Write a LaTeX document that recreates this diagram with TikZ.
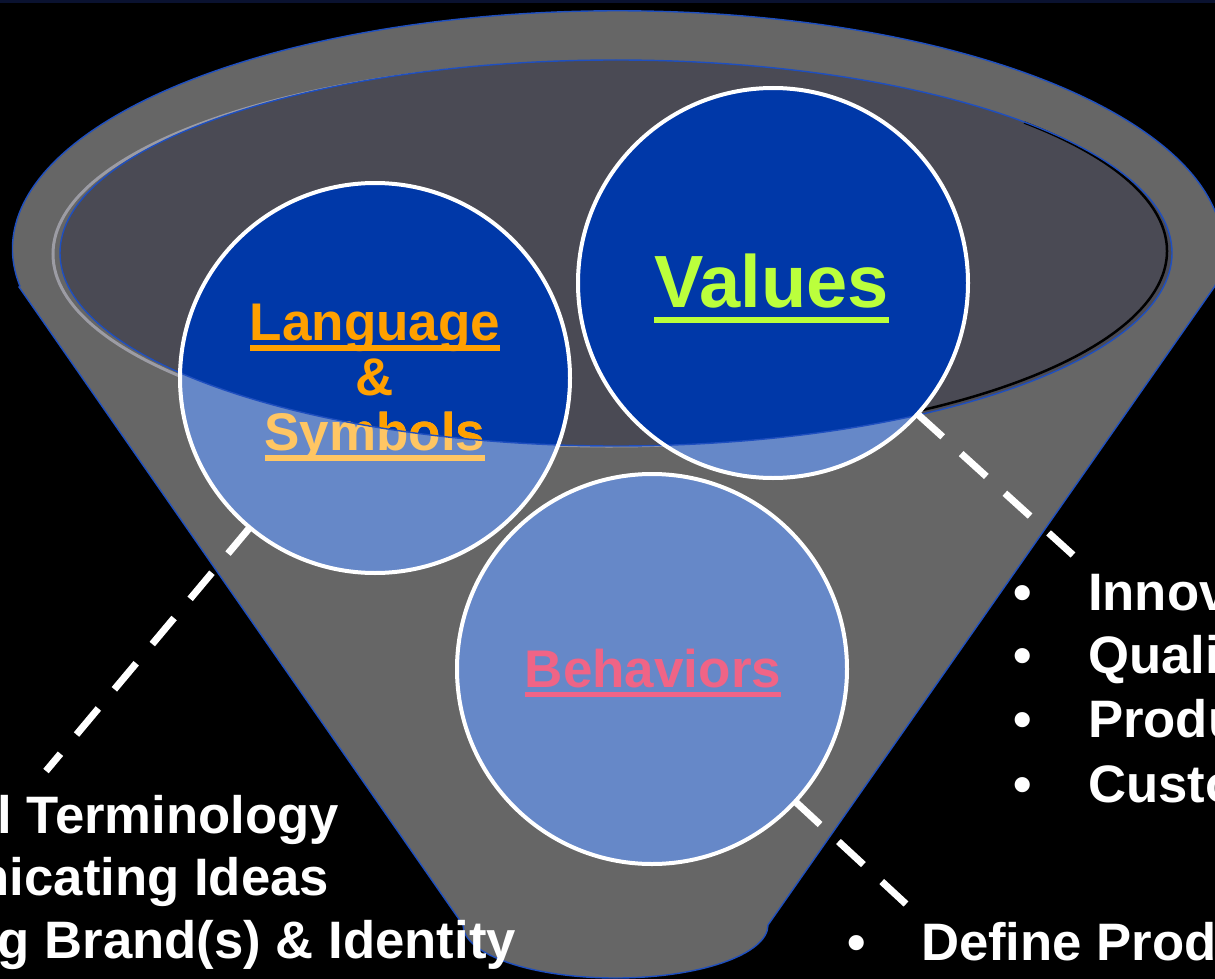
\documentclass[tikz,border=0pt]{standalone}
\usepackage{fontspec}
\setmainfont{Liberation Sans}
\definecolor{bgnavy}{HTML}{0A1230}
\definecolor{conegray}{HTML}{666666}
\definecolor{innerfill}{HTML}{4A4A54}
\definecolor{edgeblue}{HTML}{1F4FBF}
\definecolor{ringgray}{HTML}{9C9CA4}
\definecolor{darkblue}{HTML}{0038A8}
\definecolor{lightblue}{HTML}{6688C8}
\definecolor{valgreen}{HTML}{BBFF3C}
\definecolor{langorange}{HTML}{FFA000}
\definecolor{symlight}{HTML}{FFC663}
\definecolor{behpink}{HTML}{F06486}
\tikzset{
  bubble/.style={circle, minimum size=390pt, inner sep=0pt, outer sep=0pt, fill=lightblue},
  rim/.style={draw=white, line width=4pt},
  lbl/.style={inner sep=0pt, outer sep=0pt, font=\bfseries\fontsize{53}{60}\selectfont},
  bigl/.style={inner sep=0pt, outer sep=0pt, font=\bfseries\fontsize{74}{80}\selectfont},
  bodytext/.style={inner sep=0pt, outer sep=0pt, text=white, font=\bfseries\fontsize{52.7}{60}\selectfont},
  connector/.style={draw=white, line width=7pt, dash pattern=on 34pt off 25pt},
}
\begin{document}
\begin{tikzpicture}[x=1pt,y=-1pt]
\useasboundingbox (0,0) rectangle (1215,979);
\clip (0,0) rectangle (1215,979);
\fill[black] (0,0) rectangle (1215,979);
\fill[bgnavy] (0,0) rectangle (1215,3);
% funnel body
\path[fill=conegray, draw=edgeblue, line width=1.4pt]
  (19,287) -- (463,925) arc[start angle=180, end angle=0, x radius=152.5, y radius=53]
  -- (1215,286) arc[start angle=9, end angle=-189, x radius=605, y radius=238] -- cycle;
% inner opening
\draw[ringgray, line width=3pt] (609,254) ellipse[x radius=556, y radius=192];
\fill[innerfill] (616,253) ellipse[x radius=556, y radius=193];
\draw[black, line width=2.5pt] ([shift={(-42:556 and 192)}]611,251) arc[start angle=-42, end angle=60, x radius=556, y radius=192];
% circles
\node[bubble] (lang) at (375,378) {};
\node[bubble] (vals) at (773,283) {};
\node[bubble] (beh) at (652,669) {};
\begin{scope}
  \clip (616,253) ellipse[x radius=556, y radius=193];
  \fill[darkblue] (lang.center) circle[radius=195];
  \fill[darkblue] (vals.center) circle[radius=195];
\end{scope}
% circle labels
\node[bigl, text=valgreen, anchor=base] (valtxt) at (771.5,307) {Values};
\draw[valgreen, line width=6pt] ([yshift=-12.5pt]valtxt.base west) -- ([yshift=-12.5pt]valtxt.base east);
\node[lbl, text=langorange, anchor=base] (lang1) at (375,340) {Language};
\draw[langorange, line width=5.7pt] ([yshift=-8pt]lang1.base west) -- ([yshift=-8pt]lang1.base east);
\node[lbl, text=langorange, anchor=base] (lang2) at (375,395) {\&};
\node[lbl, text=symlight, anchor=base] (lang3) at (375,450) {Symbols};
\draw[symlight, line width=5.7pt] ([yshift=-8pt]lang3.base west) -- ([yshift=-8pt]lang3.base east);
\begin{scope}
  \clip (616,253) ellipse[x radius=556, y radius=193];
  \node[lbl, text=langorange, anchor=base] (lang3in) at (375,450) {Symbols};
\end{scope}
\node[lbl, text=behpink, anchor=base] (behtxt) at (653,687) {Behaviors};
\draw[behpink, line width=5.7pt] ([yshift=-7.5pt]behtxt.base west) -- ([yshift=-7.5pt]behtxt.base east);
% outline of opening and rims
\draw[edgeblue, line width=1.4pt] (616,253) ellipse[x radius=556, y radius=193];
\draw[rim] (lang.center) circle[radius=195];
\draw[rim] (vals.center) circle[radius=195];
\draw[rim] (beh.center) circle[radius=195];
% connectors
\coordinate (lend) at (46,771);
\coordinate (vend) at (1073,555);
\coordinate (bend) at (906,904);
\draw[connector] (lang) -- (lend);
\draw[connector] (vals) -- (vend);
\draw[connector] (beh) -- (bend);
% left text
\node[bodytext, anchor=base east] (t1) at (339,833) {l Terminology};
\node[bodytext, anchor=base east] (t2) at (329,895) {nicating Ideas};
\node[bodytext, anchor=base east] (t3) at (516,958) {g Brand(s) \& Identity};
% right text
\node[bodytext, anchor=base] (b1) at (1023,610) {•};
\node[bodytext, anchor=base] (b2) at (1023,673) {•};
\node[bodytext, anchor=base] (b3) at (1023,737) {•};
\node[bodytext, anchor=base] (b4) at (1023,802) {•};
\node[bodytext, anchor=base west] (r1) at (1088,610) {Innov};
\node[bodytext, anchor=base west] (r2) at (1088,673) {Quali};
\node[bodytext, anchor=base west] (r3) at (1088,737) {Produ};
\node[bodytext, anchor=base west] (r4) at (1088,802) {Custo};
\node[bodytext, anchor=base] (b5) at (857,960) {•};
\node[bodytext, anchor=base west] (r5) at (921,960) {Define Prod};
\end{tikzpicture}
\end{document}
